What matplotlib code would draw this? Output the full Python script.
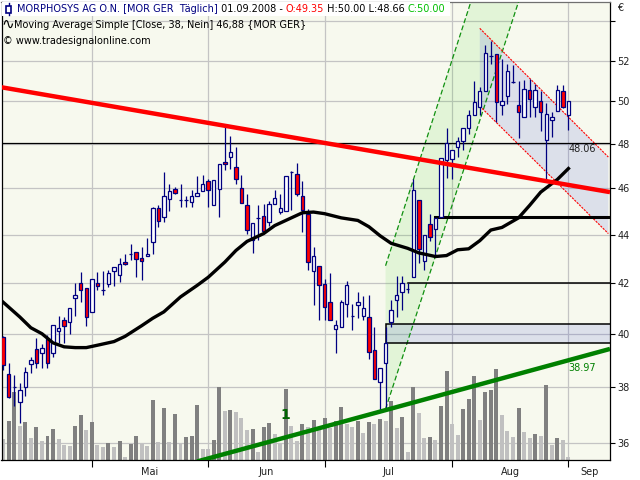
import matplotlib

matplotlib.use("Agg")

import matplotlib.pyplot as plt
import numpy as np
import pandas as pd
from matplotlib.patches import Polygon, Rectangle
from matplotlib.ticker import FixedLocator, FuncFormatter, NullLocator

# daily candles MORPHOSYS AG, 09.04.2008 - 01.09.2008
OPEN = [39.87, 38.5, 38.02, 37.45, 38.02, 38.87, 39.4, 39.25, 39.78, 39.28,
        40.1, 40.52, 40.45, 41.38, 42.0, 41.8, 40.85, 42.0, 41.72, 41.96,
        42.47, 42.33, 42.87, 43.18, 43.28, 43.0, 43.12, 43.67, 45.15, 44.74,
        45.54, 45.97, 45.5, 45.5, 45.39, 45.65, 45.87, 46.31, 45.25, 45.97,
        47.19, 47.4, 46.95, 46.02, 45.28, 43.78, 44.7, 44.8, 44.52, 45.32,
        44.96, 45.0, 46.73, 46.65, 45.64, 44.88, 42.47, 42.68, 41.96, 41.24,
        40.19, 40.26, 41.14, 40.69, 41.11, 40.69, 40.63, 39.38, 38.17, 38.89,
        40.47, 41.31, 41.63, 41.77, 42.26, 45.5, 42.88, 44.45, 44.23, 44.74,
        47.25, 47.33, 47.88, 48.12, 48.75, 49.36, 49.75, 50.49, 52.23, 52.32,
        49.83, 50.24, 50.95, 49.83, 49.25, 50.57, 49.75, 50.0, 48.19, 49.12,
        49.56, 50.49, 49.35]
HIGH = [39.9, 38.9, 38.45, 38.15, 38.73, 39.13, 39.82, 39.6, 39.97, 40.35,
        40.67, 40.63, 41.0, 42.0, 42.46, 41.8, 42.16, 42.46, 42.5, 42.53,
        42.66, 43.0, 43.18, 43.6, 43.28, 43.46, 43.87, 45.2, 45.25, 46.72,
        46.2, 46.04, 46.2, 45.64, 45.93, 46.53, 46.61, 46.42, 46.35, 47.07,
        48.78, 48.37, 47.88, 46.57, 45.73, 44.5, 45.25, 45.32, 45.42, 45.93,
        45.73, 46.53, 46.77, 47.13, 46.3, 45.1, 43.46, 42.68, 42.14, 42.42,
        40.55, 41.31, 42.09, 41.17, 41.63, 41.47, 41.5, 40.27, 38.7, 40.26,
        41.31, 42.29, 42.29, 42.0, 46.42, 45.5, 44.0, 44.86, 44.7, 47.37,
        48.75, 47.73, 48.3, 48.75, 49.6, 51.0, 50.7, 52.79, 53.0, 52.32,
        52.07, 51.82, 51.79, 51.0, 51.03, 51.07, 50.87, 50.49, 49.92, 49.48,
        50.78, 50.78, 50.0]
LOW = [38.64, 37.6, 37.3, 36.72, 37.68, 38.52, 38.7, 38.7, 38.7, 39.1,
       39.65, 39.65, 40.0, 40.67, 41.24, 40.3, 40.85, 41.72, 41.52, 41.83,
       41.86, 42.03, 42.75, 42.93, 42.23, 42.1, 43.12, 43.17, 44.33, 44.52,
       45.0, 45.76, 45.2, 45.2, 45.17, 45.64, 45.87, 45.17, 45.25, 44.74,
       46.83, 46.87, 46.2, 45.37, 44.02, 43.23, 43.78, 44.13, 44.38, 45.29,
       44.86, 45.0, 45.06, 45.68, 44.09, 42.51, 41.11, 40.52, 40.52, 40.55,
       39.28, 40.26, 40.65, 40.16, 40.59, 40.53, 39.04, 38.3, 37.19, 37.25,
       40.27, 40.65, 40.92, 41.6, 42.26, 42.8, 42.51, 43.71, 43.06, 44.74,
       46.47, 46.42, 47.4, 47.7, 48.47, 49.36, 49.36, 50.49, 51.82, 49.01,
       49.36, 49.88, 50.9, 48.26, 49.25, 49.25, 49.25, 48.62, 46.35, 48.3,
       49.56, 49.69, 48.66]
CLOSE = [38.83, 37.65, 38.02, 37.9, 38.55, 39.0, 38.9, 39.47, 38.9, 40.35,
         40.22, 40.3, 41.0, 41.5, 41.72, 40.65, 42.16, 41.86, 41.72, 42.4,
         42.66, 42.78, 42.78, 43.18, 42.97, 42.9, 43.17, 45.15, 44.56, 45.68,
         45.86, 45.8, 45.5, 45.5, 45.65, 45.81, 46.17, 45.93, 46.35, 47.07,
         47.1, 47.65, 46.42, 45.37, 44.19, 44.5, 44.7, 44.16, 45.32, 45.58,
         45.15, 46.53, 46.73, 45.73, 45.03, 42.85, 43.12, 41.93, 41.04, 40.55,
         40.35, 41.22, 41.92, 40.69, 41.22, 41.02, 39.3, 38.3, 38.7, 39.63,
         40.94, 41.5, 42.0, 41.77, 45.94, 43.38, 44.0, 43.9, 44.7, 47.37,
         48.03, 47.73, 48.14, 48.75, 49.36, 49.99, 50.49, 52.37, 52.23, 49.99,
         50.03, 51.49, 50.95, 49.48, 50.62, 50.12, 50.57, 49.52, 49.38, 49.25,
         50.53, 49.72, 50.0]
# volume, in units of the (unlabelled) volume overlay
VOLUME = [21, 39, 68, 34, 38, 22, 33, 19, 24, 31,
          21, 15, 14, 34, 45, 30, 38, 15, 13, 17,
          13, 19, 3, 16, 24, 16, 14, 60, 18, 52,
          18, 46, 16, 23, 24, 55, 11, 11, 20, 73,
          49, 50, 48, 42, 30, 31, 8, 33, 37, 26,
          16, 71, 34, 19, 36, 33, 40, 30, 42, 32,
          39, 53, 36, 33, 39, 27, 38, 36, 41, 39,
          59, 32, 43, 8, 73, 47, 22, 23, 20, 54,
          89, 36, 25, 51, 61, 84, 40, 68, 70, 91,
          45, 29, 23, 52, 28, 22, 26, 24, 75, 15,
          22, 20, 3]
VOLUME_AXIS_TOP = 458

# simple moving average (38, close)
MA_INDEX = [0, 3, 5, 7, 9, 11, 13, 15, 17, 20, 22, 25, 27, 29, 32, 35, 37, 40,
            42, 44, 47, 49, 52, 54, 56, 58, 61, 64, 66, 68, 70, 73, 75, 78, 80,
            82, 84, 86, 88, 90, 93, 95, 97, 100, 102]
MA_VALUE = [41.23, 40.65, 40.23, 40.0, 39.65, 39.5, 39.47, 39.47, 39.56, 39.7,
            39.9, 40.31, 40.6, 40.85, 41.44, 41.9, 42.23, 42.85, 43.33, 43.71,
            44.04, 44.38, 44.71, 44.93, 44.96, 44.89, 44.71, 44.6, 44.33, 43.95,
            43.63, 43.42, 43.23, 43.08, 43.12, 43.36, 43.4, 43.74, 44.19, 44.3,
            44.71, 45.25, 45.83, 46.39, 46.88]

# drawing objects: (bar index, price) pairs
RED_TREND = ([-0.6, 109.5], [50.70, 45.83])
GREEN_TREND = ([35.0, 109.5], [35.38, 39.42])
GREEN_CHANNEL_LOW = ([69.0, 93.1], [37.21, 55.12])
GREEN_CHANNEL_HIGH = ([69.0, 84.5], [42.70, 55.12])
BLUE_CHANNEL_HIGH = ([86.0, 109.2], [53.64, 47.40])
BLUE_CHANNEL_LOW = ([86.0, 109.2], [49.78, 44.04])
LEVEL_LINE = 48.06
SUPPORT_THICK = (78, 44.75)
SUPPORT_THIN = (73, 42.0)
BOX = (69, 39.63, 40.36)

PRICE_TICKS = [36, 38, 40, 42, 44, 46, 48, 50, 52, 54]
MONTH_LABELS = ["Mai", "Jun", "Jul", "Aug", "Sep"]

NAVY = "#000080"
BG = "#f7f9ee"
GRID = "#c4c4c4"
FONT = "DejaVu Sans"
FS = 7
W, H = 640, 480
X_MIN, X_MAX = -0.3, 109.5


def trading_days():
    days = pd.bdate_range("2008-04-09", "2008-09-01")
    return days[days != pd.Timestamp("2008-05-01")]


def draw_candles(ax):
    x = np.arange(len(CLOSE))
    o, h, l, c = (np.array(v) for v in (OPEN, HIGH, LOW, CLOSE))
    up = c >= o
    ax.vlines(x, l, h, color=NAVY, lw=0.9, zorder=4)
    ax.bar(x[up], c[up] - o[up], bottom=o[up], width=0.62, color="white",
           edgecolor=NAVY, lw=0.9, zorder=5)
    ax.bar(x[~up], o[~up] - c[~up], bottom=c[~up], width=0.62, color="#ff0000",
           edgecolor=NAVY, lw=0.9, zorder=5)


def draw_volume(ax):
    vol = np.array(VOLUME)
    rising = np.r_[False, vol[1:] > vol[:-1]]
    colors = np.where(rising, "#808080", "#c0c0c0")
    ax.bar(np.arange(len(vol)), vol / VOLUME_AXIS_TOP, width=0.72, color=colors,
           transform=ax.get_xaxis_transform(), zorder=1)


def draw_objects(ax):
    # channels
    gx = GREEN_CHANNEL_LOW[0] + GREEN_CHANNEL_HIGH[0][::-1]
    gy = GREEN_CHANNEL_LOW[1] + GREEN_CHANNEL_HIGH[1][::-1]
    ax.add_patch(Polygon(list(zip(gx, gy)), closed=True, facecolor="#30d010",
                         alpha=0.1, edgecolor="none", zorder=1.5))
    for line in (GREEN_CHANNEL_LOW, GREEN_CHANNEL_HIGH):
        ax.plot(*line, color="#109010", lw=0.9, ls=(0, (4, 2)), zorder=3)

    bx = BLUE_CHANNEL_HIGH[0] + BLUE_CHANNEL_LOW[0][::-1]
    by = BLUE_CHANNEL_HIGH[1] + BLUE_CHANNEL_LOW[1][::-1]
    ax.add_patch(Polygon(list(zip(bx, by)), closed=True, facecolor="#3848d8",
                         alpha=0.14, edgecolor="none", zorder=1.5))
    for line in (BLUE_CHANNEL_HIGH, BLUE_CHANNEL_LOW):
        ax.plot(*line, color="#ff0000", lw=0.8, ls=(0, (2, 1)), zorder=3)

    left, low, high = BOX
    ax.add_patch(Rectangle((left, low), X_MAX - left, high - low,
                           facecolor="#3848d8", alpha=0.14, edgecolor="none", zorder=1.6))
    ax.add_patch(Rectangle((left, low), X_MAX + 1 - left, high - low,
                           facecolor="none", edgecolor="black", lw=1.1, zorder=3))

    # horizontal levels
    ax.axhline(LEVEL_LINE, color="black", lw=0.9, zorder=3)
    ax.text(102, 47.77, f"{LEVEL_LINE:.2f}", fontsize=FS, family=FONT,
            color="#202020", va="center", ha="left", zorder=8)
    ax.plot([SUPPORT_THICK[0], X_MAX], [SUPPORT_THICK[1]] * 2, color="black", lw=2.2, zorder=3)
    ax.plot([SUPPORT_THIN[0], X_MAX], [SUPPORT_THIN[1]] * 2, color="black", lw=1.1, zorder=3)

    # trend lines
    ax.plot(*RED_TREND, color="#ff0000", lw=3.2, solid_capstyle="butt", zorder=7)
    ax.plot(*GREEN_TREND, color="#008000", lw=3.2, solid_capstyle="butt", zorder=7)
    ax.text(102, 38.72, "38.97", fontsize=FS, family=FONT, color="#008000",
            va="center", ha="left", zorder=8)
    ax.text(51, 37.0, "1", fontsize=10, family=FONT, weight="bold",
            color="#006400", va="center", ha="center", zorder=8)


def setup_axes(ax, days):
    ax.set_yscale("log")
    ax.set_xlim(X_MIN, X_MAX)
    ax.set_ylim(35.43, 55.03)
    ax.set_facecolor(BG)

    ax.yaxis.tick_right()
    ax.yaxis.set_major_locator(FixedLocator(PRICE_TICKS))
    ax.yaxis.set_minor_locator(NullLocator())
    ax.yaxis.set_major_formatter(FuncFormatter(lambda v, _: "" if v > 53 else f"{v:.0f}"))
    ax.tick_params(axis="y", direction="out", length=3.5, width=0.8, pad=2,
                   labelsize=FS, labelcolor="#202020")

    months = np.array([d.month for d in days])
    starts = list(np.flatnonzero(np.diff(months)) + 1)
    ends = starts[1:] + [X_MAX]
    centers = [(s + e) / 2 for s, e in zip(starts, ends)]
    ax.xaxis.set_major_locator(FixedLocator(starts))
    ax.xaxis.set_major_formatter(FuncFormatter(lambda v, _: ""))
    ax.xaxis.set_minor_locator(FixedLocator(centers))
    ax.xaxis.set_minor_formatter(FuncFormatter(lambda v, i: MONTH_LABELS[i]))
    ax.tick_params(axis="x", which="major", direction="out", length=5, width=0.8)
    ax.tick_params(axis="x", which="minor", length=0, pad=5, labelsize=FS,
                   labelcolor="#202020")
    for lab in ax.get_xticklabels(minor=True) + ax.get_yticklabels():
        lab.set_family(FONT)

    ax.grid(True, which="major", color=GRID, lw=0.9)
    ax.set_axisbelow(True)
    for side in ("left", "right", "bottom"):
        ax.spines[side].set_color("black")
        ax.spines[side].set_linewidth(0.9)
    ax.spines["top"].set_color("#707070")
    ax.spines["top"].set_linewidth(0.9)


def draw_header(fig):
    renderer = fig.canvas.get_renderer()

    def pieces(x_px, y_px, parts, size=FS):
        x = x_px
        for text, color in parts:
            t = fig.text(x / W, 1 - y_px / H, text, color=color, fontsize=size,
                         family=FONT, va="center", ha="left", zorder=10)
            x += t.get_window_extent(renderer).width
        return x

    end = pieces(17, 9, [
        ("MORPHOSYS AG O.N. [MOR GER  Täglich]", NAVY),
        (" 01.09.2008 - ", "black"),
        (f"O:{OPEN[-1]:.2f}", "#ff0000"),
        (f" H:{HIGH[-1]:.2f} L:{LOW[-1]:.2f} ", "black"),
        (f"C:{CLOSE[-1]:.2f}", "#00c000"),
    ])
    fig.add_artist(Rectangle((2 / W, 1 - 16 / H), (end + 2) / W, 14 / H,
                             transform=fig.transFigure, facecolor="white",
                             edgecolor="none", zorder=9))
    # small candle icon
    fig.add_artist(Rectangle((6 / W, 1 - 13 / H), 5 / W, 7 / H, transform=fig.transFigure,
                             facecolor="white", edgecolor=NAVY, lw=1.2, zorder=10))
    fig.add_artist(plt.Line2D([8.5 / W] * 2, [1 - 15 / H, 1 - 3 / H],
                              transform=fig.transFigure, color=NAVY, lw=1, zorder=9.5))

    wave_end = pieces(1, 24.5, [("\u223f", "black")], size=11)
    pieces(wave_end, 24.5, [(f"Moving Average Simple [Close, 38, Nein] "
                             f"{MA_VALUE[-1]:.2f}".replace(".", ",") + " {MOR GER}", "black")])
    pieces(3, 41, [("\u00a9 www.tradesignalonline.com", "black")])
    fig.text(617 / W, 1 - 8 / H, "\u20ac", fontsize=FS, family=FONT, va="center",
             ha="left", color="#202020")


def main():
    days = trading_days()
    fig = plt.figure(figsize=(W / 100, H / 100), dpi=100, facecolor="white")
    ax = fig.add_axes([1.5 / W, 20 / H, 608.5 / W, 458.3 / H])

    draw_volume(ax)
    draw_objects(ax)
    draw_candles(ax)
    ax.plot(MA_INDEX, MA_VALUE, color="black", lw=2.4, zorder=6)
    setup_axes(ax, days)
    draw_header(fig)

    fig.savefig("out.png", dpi=100)
    plt.close(fig)


if __name__ == "__main__":
    main()
